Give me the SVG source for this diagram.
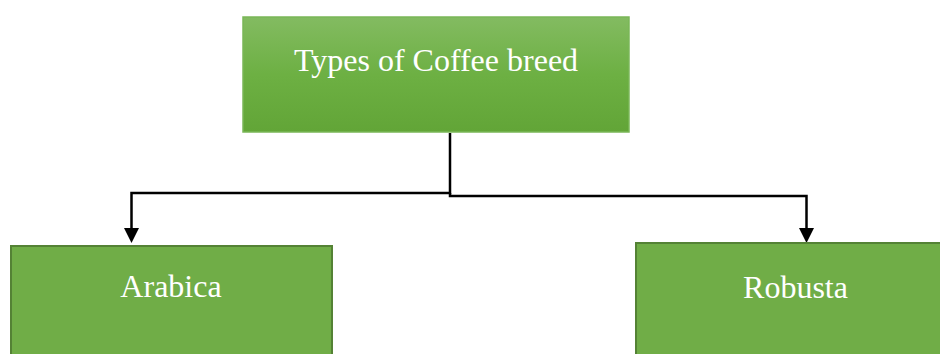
<svg xmlns="http://www.w3.org/2000/svg" width="940" height="354" viewBox="0 0 940 354">
<defs>
<linearGradient id="g" x1="0" y1="0" x2="0" y2="1">
<stop offset="0" stop-color="#83bb61"/>
<stop offset="0.5" stop-color="#6db043"/>
<stop offset="1" stop-color="#62a537"/>
</linearGradient>
<marker id="arr" markerWidth="15" markerHeight="15" viewBox="0 0 15 15" refX="7.5" refY="15" orient="auto-start-reverse" markerUnits="userSpaceOnUse">
<path d="M0,0 L15,0 L7.5,15 Z" fill="#000"/>
</marker>
<style>
.lbl{font-family:"Liberation Serif","Times New Roman",serif;font-size:32px;fill:#fff;text-anchor:middle}
.box{fill:#70ad47;stroke:#548235;stroke-width:2}
.ln{fill:none;stroke:#000;stroke-width:2.5}
</style>
</defs>
<rect width="940" height="354" fill="#fff"/>
<g id="connectors">
<polyline class="ln" points="450,133 450,193 131.5,193 131.5,228"/>
<path d="M124,228 L139,228 L131.5,243 Z" fill="#000"/>
<polyline class="ln" points="450,193 450,196 806.5,196 806.5,228"/>
<path d="M799,228 L814,228 L806.5,243 Z" fill="#000"/>
</g>
<g id="node-types">
<rect x="243" y="17" width="386" height="115" fill="url(#g)" stroke="#7ab757" stroke-width="1.5"/>
<text class="lbl" x="436" y="71">Types of Coffee breed</text>
</g>
<g id="node-arabica">
<rect class="box" x="11" y="246" width="321" height="120"/>
<text class="lbl" x="171" y="297">Arabica</text>
</g>
<g id="node-robusta">
<rect class="box" x="636" y="243" width="320" height="120"/>
<text class="lbl" x="795.5" y="298">Robusta</text>
</g>
</svg>
